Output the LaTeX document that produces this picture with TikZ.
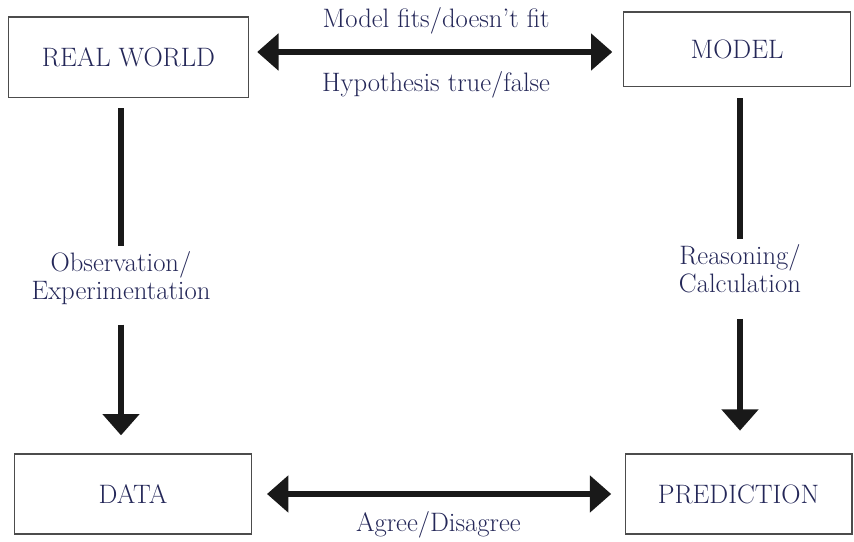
\documentclass[tikz,border=0pt]{standalone}
\usepackage{xcolor}
\usepackage{tikz}
\usetikzlibrary{arrows.meta,calc}
\definecolor{inknavy}{RGB}{36,39,88}
\tikzset{
  stagebox/.style={draw=black!70,line width=1pt,text=inknavy,
    font=\fontsize{20}{21}\selectfont,minimum height=60pt,inner sep=0pt},
  steplabel/.style={text=inknavy,font=\fontsize{20}{21}\selectfont,align=center,
    inner xsep=0pt,inner ysep=4pt},
  flowline/.style={line width=5pt,draw=black!90},
  flowarrow/.style={-{Triangle[width=27pt,length=16pt]},line width=5pt,draw=black!90},
  twowayarrow/.style={{Triangle[width=27pt,length=16pt]}-{Triangle[width=27pt,length=16pt]},
    line width=5pt,draw=black!90}
}

\begin{document}
\begin{tikzpicture}[x=0.75pt,y=-0.75pt]
  \useasboundingbox (0,0) rectangle (854,542);
  \node[stagebox,minimum width=180pt,minimum height=60.5pt] (world) at (128.5,57.5) {REAL WORLD};
  \node[stagebox,minimum width=170pt,minimum height=56pt] (model) at (737,49.5) {MODEL};
  \node[stagebox,minimum width=178pt] (data) at (133,494) {DATA};
  \node[stagebox,minimum width=170pt] (prediction) at (738.5,494) {PREDICTION};

  \coordinate (topline) at (435,52);
  \draw[twowayarrow,shorten <=6pt,shorten >=8pt] (world.east |- topline)
    -- node[steplabel,above=7pt] (fits) {Model fits/doesn’t fit}
       node[steplabel,below=8pt] (truth) {Hypothesis true/false}
    (model.west |- topline);
  \draw[twowayarrow,shorten <=11pt,shorten >=10pt] (data.east)
    -- node[steplabel,below=7pt] (agree) {Agree/Disagree} (prediction.west);

  \node[steplabel] (observe) at (121,278.5) {Observation/\\Experimentation};
  \node[steplabel] (reason) at (740,269) {Reasoning/\\Calculation};
  \draw[flowline,shorten <=7.5pt] (world.south -| observe.north) -- (observe.north);
  \draw[flowarrow,shorten <=10.5pt,shorten >=13.5pt] (observe.south) -- (data.north -| observe.south);
  \draw[flowline,shorten <=8pt] (model.south -| reason.north) -- (reason.north);
  \draw[flowarrow,shorten <=15pt,shorten >=17pt] (reason.south) -- (prediction.north -| reason.south);
\end{tikzpicture}
\end{document}
